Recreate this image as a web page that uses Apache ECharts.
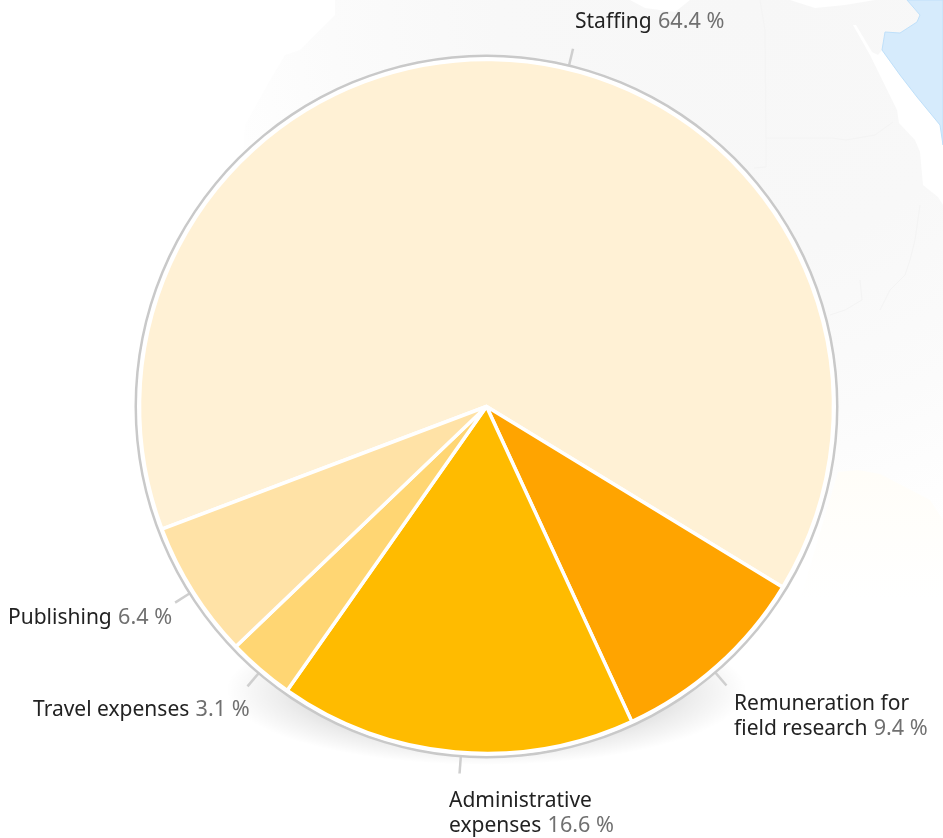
<!DOCTYPE html>
<html><head><meta charset="utf-8">
<style>html,body{margin:0;padding:0;background:#fff}#c{width:943px;height:838px}</style>
<script src="https://cdn.jsdelivr.net/npm/echarts@6/dist/echarts.min.js"></script>
</head><body><div id="c"></div>
<script>
const categories = ['Staffing', 'Remuneration for\nfield research', 'Administrative\nexpenses', 'Travel expenses', 'Publishing'];
const shares = [64.4, 9.4, 16.6, 3.1, 6.4];
const tickAngles = [13.6, 139.3, 184.2, 220.5, 237.8];
const sliceColors = ['#FFF1D5', '#FFA400', '#FFBB00', '#FFD673', '#FFE2A6'];

const CX = 486.5, CY = 406.5;
const labelAt = [[575, 22], [734, 716.5], [449, 813.5], [33, 710], [8, 618]];
const FONT = '"Noto Sans", sans-serif';

const chart = echarts.init(document.getElementById('c'), null, {renderer: 'canvas'});
const land = [[335,0],[630,0],[645,8],[675,12],[690,0],[790,0],[815,8],[845,5],[875,0],[907,0],[920,15],[917,22],[900,33],[885,32],[882,50],[878,55],[872,52],[856,25],[853,25],[870,55],[897,110],[899,123],[915,140],[920,152],[923,185],[938,197],[943,205],[943,520],[240,520],[240,200],[245,125],[270,80],[285,55],[300,50],[335,15]];
const sea = [[907,0],[920,15],[917,22],[900,33],[885,32],[882,50],[900,75],[917,97],[940,125],[943,145],[943,0]];
const borders = [
  [[760,0],[765,30],[766,138],[832,138],[846,140],[875,135],[893,122]],
  [[766,138],[766,167],[754,168]],
  [[920,205],[915,240],[910,260],[905,275],[890,290],[880,310]],
  [[860,280],[862,300],[845,310],[830,315]]
];
const lineEl = pts => ({type:'polyline', silent:true, z:0, shape:{points:pts}, style:{stroke:'#f4f4f4', lineWidth:1, fill:null}});

chart.setOption({
  animation: false,
  backgroundColor: '#fff',
  graphic: [
    {type:'polygon', silent:true, z:0, shape:{points:land},
     style:{fill:new echarts.graphic.RadialGradient(750,0,560,[{offset:0,color:'#f7f7f7'},{offset:.45,color:'#f8f8f8'},{offset:.75,color:'#fbfbfb'},{offset:1,color:'#ffffff'}],true)}},
    {type:'polygon', silent:true, z:0, shape:{points:sea}, style:{fill:'#d6ebfc', stroke:'#bfe0fa', lineWidth:1}},
    ...borders.map(lineEl),
    {type:'polygon', silent:true, z:0, shape:{points:[[838,472],[858,470],[880,474],[930,500],[943,520],[943,600],[800,600]]},
     style:{fill:new echarts.graphic.LinearGradient(0,470,0,600,[{offset:0,color:'#fffdf8'},{offset:1,color:'#ffffff'}],true)}},
    {type:'circle', silent:true, z:1, x:CX, y:690, scaleX:3.47, shape:{cx:0, cy:0, r:75},
     style:{fill:new echarts.graphic.RadialGradient(.5,.5,.5,[{offset:0,color:'rgba(0,0,0,.16)'},{offset:.6,color:'rgba(0,0,0,.16)'},{offset:.8,color:'rgba(0,0,0,.07)'},{offset:1,color:'rgba(0,0,0,0)'}])}}
  ],
  polar: {center:[CX, CY], radius:370},
  radiusAxis: {show:false, min:0, max:370},
  angleAxis: {show:false, min:0, max:360, startAngle:90, clockwise:true},
  series: [
    {type:'pie', silent:true, center:[CX,CY], radius:[0,350], z:2, label:{show:false}, labelLine:{show:false},
     data:[{value:1, itemStyle:{color:'#fff'}}]},
    {type:'pie', silent:true, center:[CX,CY], radius:[349.5,352], z:3, label:{show:false}, labelLine:{show:false},
     data:[{value:1, itemStyle:{color:'#c9c9c9'}}]},
    {type:'custom', coordinateSystem:'polar', silent:true, z:3, data:tickAngles.map(a=>[a]),
     renderItem:(p,api)=>{
       const a = api.value(0), s = api.coord([351,a]), e = api.coord([368,a]);
       return {type:'line', shape:{x1:s[0],y1:s[1],x2:e[0],y2:e[1]}, style:{stroke:'#cfcfcf', lineWidth:2.5}};
     }},
    {type:'pie', silent:true, center:[CX,CY], radius:[0,347], z:4, startAngle:200.7, clockwise:true, minAngle:0, avoidLabelOverlap:false,
     data:categories.map((n,i)=>({name:n, value:shares[i], itemStyle:{color:sliceColors[i]}})),
     itemStyle:{borderColor:'#fff', borderWidth:3.5},
     labelLine:{show:false},
     label:{show:true, position:'outside', alignTo:'none',
       formatter:p=>{
         const ls = p.name.split('\n');
         const last = ls.pop();
         return ls.map(l=>`{n|${l}}`).concat([`{n|${last}} {v|${shares[p.dataIndex].toFixed(1)} %}`]).join('\n');
       },
       rich:{
         n:{fontFamily:FONT, fontSize:21, color:'#222', lineHeight:25},
         v:{fontFamily:FONT, fontSize:21.6, color:'#707070', lineHeight:25, padding:[0,0,0,3]}
       }},
     labelLayout:p=>({x:labelAt[p.dataIndex][0], y:labelAt[p.dataIndex][1], align:'left', verticalAlign:'middle', hideOverlap:false})
    }
  ]
});
</script></body></html>
